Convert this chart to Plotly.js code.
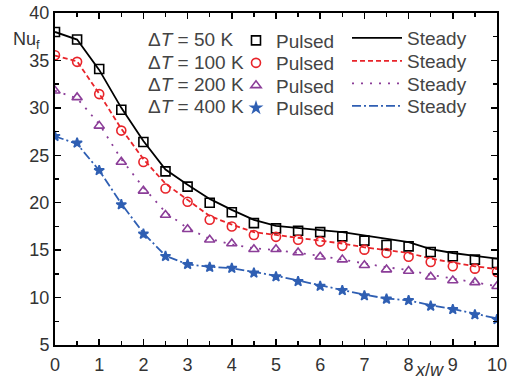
<!DOCTYPE html>
<html><head><meta charset="utf-8">
<script src="https://cdn.plot.ly/plotly-3.0.1.min.js"></script>
<style>html,body{margin:0;padding:0;background:#fff}</style>
</head><body><div id="chart" style="width:508px;height:379px"></div>
<script>
const xPos = [0,0.5,1,1.5,2,2.5,3,3.5,4,4.5,5,5.5,6,6.5,7,7.5,8,8.5,9,9.5,10];
const seriesNames = ["\u0394<i>T</i> = 50 K","\u0394<i>T</i> = 100 K","\u0394<i>T</i> = 200 K","\u0394<i>T</i> = 400 K"];
const pulsed50  = [38.0,37.2,34.1,29.8,26.4,23.3,21.7,20.0,19.0,17.85,17.3,17.05,16.9,16.45,16.0,15.55,15.4,14.8,14.35,14.0,13.65];
const steady50  = [38.0,37.2,34.0,30.0,26.5,23.5,21.9,20.4,19.25,18.2,17.55,17.3,17.1,16.9,16.55,16.2,15.85,15.1,14.7,14.4,14.1];
const pulsed100 = [35.55,34.85,31.45,27.6,24.3,21.5,20.1,18.2,17.5,16.6,16.4,16.1,15.9,15.45,15.05,14.7,14.3,13.75,13.3,13.05,12.7];
const steady100 = [35.5,34.9,31.5,27.8,24.6,22.0,20.3,18.6,17.7,16.9,16.6,16.3,16.0,15.7,15.3,15.0,14.7,14.1,13.7,13.3,13.0];
const pulsed200 = [31.8,31.1,28.1,24.3,21.25,18.7,17.2,16.1,15.7,15.1,15.1,14.75,14.3,14.0,13.4,12.95,12.8,12.2,11.8,11.6,11.2];
const steady200 = [31.8,31.0,28.3,24.6,21.6,19.0,17.3,16.2,15.6,15.2,15.0,14.7,14.4,14.0,13.6,13.2,12.9,12.4,12.0,11.6,11.2];
const pulsed400 = [27.0,26.3,23.4,19.8,16.7,14.35,13.5,13.2,13.1,12.6,12.2,11.7,11.2,10.75,10.2,9.85,9.7,9.1,8.75,8.2,7.7];
const steady400 = [27.0,26.2,23.4,19.9,16.8,14.4,13.5,13.25,13.1,12.7,12.3,11.8,11.3,10.8,10.3,9.9,9.7,9.2,8.8,8.3,7.8];
const pulsedLabel = "Pulsed";
const steadyLabel = "Steady";
const xTitle = "<i>x</i>/<i>w</i>";
const yTitle = "Nu<sub>f</sub>";

const colors = ["#000000","#e8242a","#8b3d98","#2f5fb3"];
const symbols = ["square-open","circle-open","triangle-up-open","star"];
const msizes = [9,9,9,7.5];
const dashes = ["solid","5px,3px","2px,7px","9px,3px,2px,3px"];
const pulsed = [pulsed50,pulsed100,pulsed200,pulsed400];
const steady = [steady50,steady100,steady200,steady400];

const W=508,H=379,L=55,R=11,T=13,B=34;
const pw=W-L-R, ph=H-T-B;
const px2x = p => (p-L)/pw;
const py2y = p => 1-(p-T)/ph;
const fontFam = "Liberation Sans, Arial, Helvetica, sans-serif";

const traces = [];
const legends = {};
const pulsedRows = [40.5,63,85.5,108];
const steadyRows = [38,61,83.5,106];
for (let i=0;i<4;i++){
  traces.push({x:xPos,y:steady[i],mode:'lines',name:steadyLabel,legend:'legend'+(i+5),
    line:{color:colors[i],width:1.8,dash:dashes[i]},hoverinfo:'skip'});
  legends['legend'+(i+5)] = {x:px2x(347),y:py2y(steadyRows[i]),xanchor:'left',yanchor:'middle',
    bgcolor:'rgba(0,0,0,0)',font:{family:fontFam,size:19,color:'#444'},itemwidth:50};
}
for (let i=0;i<4;i++){
  const key = i===0 ? 'legend' : 'legend'+(i+1);
  traces.push({x:xPos,y:pulsed[i],mode:'markers',name:pulsedLabel,legend:key,
    marker:{symbol:symbols[i],size:msizes[i],color:colors[i],line:{color:colors[i],width:1.6}}});
  legends[key] = {x:px2x(236),y:py2y(pulsedRows[i]),xanchor:'left',yanchor:'middle',
    bgcolor:'rgba(0,0,0,0)',font:{family:fontFam,size:19,color:'#444'},itemwidth:30};
}

const annotations = [];
const rowsY = [39.5,62,84.5,107];
for (let i=0;i<4;i++){
  annotations.push({xref:'paper',yref:'paper',x:px2x(146),y:py2y(rowsY[i]),xanchor:'left',yanchor:'middle',
    text:seriesNames[i],showarrow:false,font:{family:fontFam,size:19,color:'#444'}});
}
annotations.push({xref:'paper',yref:'paper',x:px2x(26),y:py2y(40),xanchor:'center',yanchor:'middle',
  text:yTitle,showarrow:false,font:{family:fontFam,size:18,color:'#333'}});
annotations.push({xref:'paper',yref:'paper',x:px2x(429),y:py2y(370),xanchor:'center',yanchor:'middle',
  text:xTitle,showarrow:false,font:{family:fontFam,size:18,color:'#333'}});

const axisCommon = {showgrid:false,zeroline:false,showline:true,linecolor:'#000',linewidth:2,mirror:'allticks',
  ticks:'inside',ticklen:6,tickwidth:1.5,tickcolor:'#000',tickfont:{family:fontFam,size:18,color:'#333'}};

const layout = Object.assign({
  width:W,height:H,margin:{l:L,r:R,t:T,b:B},paper_bgcolor:'#fff',plot_bgcolor:'#fff',
  font:{family:fontFam},
  xaxis:Object.assign({},axisCommon,{range:[0,10],tickmode:'linear',tick0:0,dtick:1,
    minor:{dtick:0.5,ticks:'inside',ticklen:4,tickcolor:'#000',tickwidth:1.5},ticklabelstandoff:2}),
  yaxis:Object.assign({},axisCommon,{range:[5,40],tickmode:'linear',tick0:5,dtick:5,
    minor:{dtick:2.5,ticks:'inside',ticklen:4,tickcolor:'#000',tickwidth:1.5}}),
  showlegend:true,
  annotations:annotations
}, legends);
Plotly.newPlot('chart',traces,layout,{displayModeBar:false,staticPlot:true});
</script></body></html>
